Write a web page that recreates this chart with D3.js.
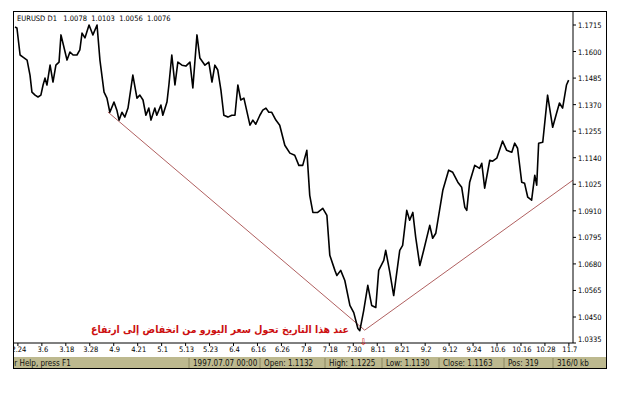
<!DOCTYPE html>
<html><head><meta charset="utf-8">
<script src="https://cdn.jsdelivr.net/npm/d3@7"></script>
<style>body{margin:0;background:#fff}svg{display:block}</style>
</head><body>
<svg id="c" width="640" height="400"></svg>
<script>
const days=[0,0.8,2.1,3.3,5.0,6.2,7.0,8.3,9.5,10.7,11.6,12.4,13.2,14.5,15.7,16.9,18.2,19.0,20.7,21.5,22.7,24.0,25.6,26.8,27.7,28.9,30.6,32.2,33.9,35.1,36.8,38.0,39.2,40.9,42.1,43.0,44.2,45.4,46.7,48.7,50.4,51.6,52.9,54.1,55.3,56.2,57.8,58.6,60.3,61.1,62.8,63.6,64.8,66.1,67.3,69.0,70.6,72.3,73.5,75.2,76.4,78.5,80.1,81.4,82.6,83.8,85.1,86.3,88.0,89.6,90.9,92.1,93.3,94.6,97.1,98.3,99.5,101.2,102.4,103.7,104.9,106.1,107.8,109.4,111.5,113.6,115.6,117.3,118.9,120.6,121.8,123.1,125.1,127.2,128.9,130.1,132.2,133.0,134.6,136.3,138.4,140.0,141.7,142.5,144.1,145.8,147.4,149.1,150.3,152.4,153.2,154.9,156.5,159.0,160.2,161.9,163.1,164.4,165.6,167.3,168.9,171.4,172.6,173.9,176.8,179.2,180.9,183.0,184.6,185.9,186.7,187.9,190.0,192.0,192.9,194.1,196.2,197.4,199.1,201.5,203.2,205.3,206.5,207.7,209.4,210.6,211.9,213.5,214.8,215.6,216.4,218.1,220.1,222.2,223.8,225.0,226.3,227.9,228.8];
const prices=[1.1706,1.1702,1.1585,1.1576,1.1563,1.1498,1.1424,1.1411,1.1403,1.1411,1.1455,1.1485,1.1455,1.1541,1.1468,1.1541,1.1554,1.1672,1.1598,1.1563,1.1598,1.1585,1.1585,1.1607,1.1680,1.1659,1.1715,1.1672,1.1715,1.1563,1.1424,1.1398,1.1337,1.1381,1.1346,1.1303,1.1337,1.1316,1.1355,1.1498,1.1398,1.1411,1.1390,1.1324,1.1355,1.1303,1.1355,1.1324,1.1368,1.1324,1.1381,1.1455,1.1585,1.1455,1.1554,1.1541,1.1537,1.1554,1.1442,1.1672,1.1572,1.1541,1.1554,1.1468,1.1541,1.1520,1.1433,1.1324,1.1316,1.1324,1.1324,1.1455,1.1390,1.1398,1.1281,1.1303,1.1285,1.1324,1.1346,1.1355,1.1337,1.1337,1.1303,1.1281,1.1194,1.1160,1.1151,1.1107,1.1107,1.1172,1.0977,1.0903,1.0903,1.0921,1.0890,1.0717,1.0652,1.0630,1.0652,1.0608,1.0500,1.0469,1.0400,1.0391,1.0478,1.0587,1.0500,1.0491,1.0652,1.0695,1.0739,1.0643,1.0543,1.0739,1.0760,1.0912,1.0869,1.0903,1.0795,1.0673,1.0739,1.0847,1.0791,1.0813,1.0999,1.1086,1.1077,1.1034,1.1012,1.0925,1.0912,1.1034,1.1107,1.1094,1.1116,1.1008,1.1129,1.1125,1.1138,1.1212,1.1172,1.1164,1.1203,1.1181,1.1034,1.1029,1.0969,1.0956,1.1064,1.1021,1.1203,1.1207,1.1411,1.1272,1.1333,1.1377,1.1355,1.1455,1.1476];
const trendDays=[38.4,144.5,230.6];
const trendPrices=[1.1338,1.0393,1.1043];
const priceTicks=[1.1715,1.1600,1.1485,1.1370,1.1255,1.1140,1.1025,1.0910,1.0795,1.0680,1.0565,1.0450,1.0335];
const dateTickDays=[1.2,11.1,21.0,30.9,40.8,50.7,60.6,70.5,80.4,90.3,100.2,110.1,120.0,129.9,139.8,149.7,159.6,169.5,179.4,189.3,199.2,209.1,219.0,228.9];
const dateLabels=["2.24","3.6","3.18","3.28","4.9","4.21","5.1","5.13","5.23","6.4","6.16","6.26","7.8","7.18","7.30","8.11","8.21","9.2","9.12","9.24","10.6","10.16","10.28","11.7"];
const statusTexts=["For Help, press F1","1997.07.07 00:00","Open: 1.1132","High: 1.1225","Low: 1.1130","Close: 1.1163","Pos: 319","316/0 kb"];
const statusStarts=[0,180,251,316,373,430,495,544];

const svg=d3.select("#c");
const L=13,T=11,R=607,B=368,AX=573,AY=343;
const x=d3.scaleLinear().domain([0,230.6]).range([15,AX]);
const y=d3.scaleLinear().domain([1.1715,1.0450]).range([25,317]);
const font="'DejaVu Sans Condensed','DejaVu Sans',sans-serif";

svg.append("clipPath").attr("id","fr").append("rect").attr("x",L).attr("y",T).attr("width",R-L).attr("height",B-T);
const g=svg.append("g").attr("clip-path","url(#fr)");
svg.append("clipPath").attr("id","pl").append("rect").attr("x",L).attr("y",T).attr("width",AX-L).attr("height",AY-T);

const sg=g.append("g");
sg.append("rect").attr("x",L).attr("y",357).attr("width",R-L).attr("height",B-357).attr("fill","#bdb98f");
statusStarts.forEach((s,i)=>{
  if(i>0) sg.append("line").attr("x1",L+s-4).attr("x2",L+s-4).attr("y1",358).attr("y2",B).attr("stroke","#8a8660");
});
sg.selectAll("text.st").data(statusTexts).join("text").attr("class","st")
 .attr("x",(d,i)=>L+statusStarts[i]-(i==0?7:0)).attr("y",366).attr("font-family",font).attr("font-size",8).attr("fill","#111").text(d=>d);

g.append("path").datum(trendDays.map((d,i)=>[d,trendPrices[i]]))
 .attr("d",d3.line().x(d=>x(d[0])).y(d=>y(d[1]))).attr("fill","none").attr("stroke","#b06060").attr("stroke-width",1);

g.append("path").attr("clip-path","url(#pl)").datum(days.map((d,i)=>[d,prices[i]]))
 .attr("d",d3.line().x(d=>x(d[0])).y(d=>y(d[1]))).attr("fill","none").attr("stroke","#000").attr("stroke-width",1.6).attr("stroke-linejoin","round");

const ya=g.append("g").attr("transform",`translate(${AX},0)`);
ya.append("line").attr("y1",T).attr("y2",AY).attr("stroke","#000");
priceTicks.forEach(p=>{
  const yy=Math.min(y(p),339);
  const ty=y(p)>AY?AY:y(p);
  ya.append("line").attr("x1",0).attr("x2",3).attr("y1",ty).attr("y2",ty).attr("stroke","#000");
  ya.append("text").attr("x",5).attr("y",yy+3).attr("font-family",font).attr("font-size",7.5).attr("fill","#000").text(p.toFixed(4));
});
g.append("line").attr("x1",L).attr("x2",AX).attr("y1",AY).attr("y2",AY).attr("stroke","#000");
dateTickDays.forEach((d,i)=>{
  g.append("line").attr("x1",x(d)).attr("x2",x(d)).attr("y1",AY).attr("y2",AY+3).attr("stroke","#000");
  g.append("text").attr("x",x(d)+1).attr("y",AY+9).attr("text-anchor","middle").attr("font-family",font).attr("font-size",7.5).attr("fill","#000").text(dateLabels[i]);
});
g.append("text").attr("x",17).attr("y",21).attr("font-family",font).attr("font-size",7.5).attr("fill","#000").attr("xml:space","preserve").text("EURUSD D1   1.0078  1.0103  1.0056  1.0076");
g.append("text").attr("x",349).attr("y",333).attr("text-anchor","start").attr("direction","rtl").attr("font-family","'DejaVu Sans',sans-serif").attr("font-weight","bold").attr("font-size",10.5).attr("textLength",258).attr("lengthAdjust","spacingAndGlyphs").attr("fill","#cc1010").text("عند هذا التاريخ تحول سعر اليورو من انخفاض إلى ارتفاع");
g.append("text").attr("x",x(144)).attr("y",345).attr("text-anchor","middle").attr("font-family","'DejaVu Sans',sans-serif").attr("font-size",9).attr("fill","#cc1010").text("⇩");
svg.append("rect").attr("x",L+0.5).attr("y",T+0.5).attr("width",R-L-1).attr("height",B-T).attr("fill","none").attr("stroke","#000");
</script></body></html>
